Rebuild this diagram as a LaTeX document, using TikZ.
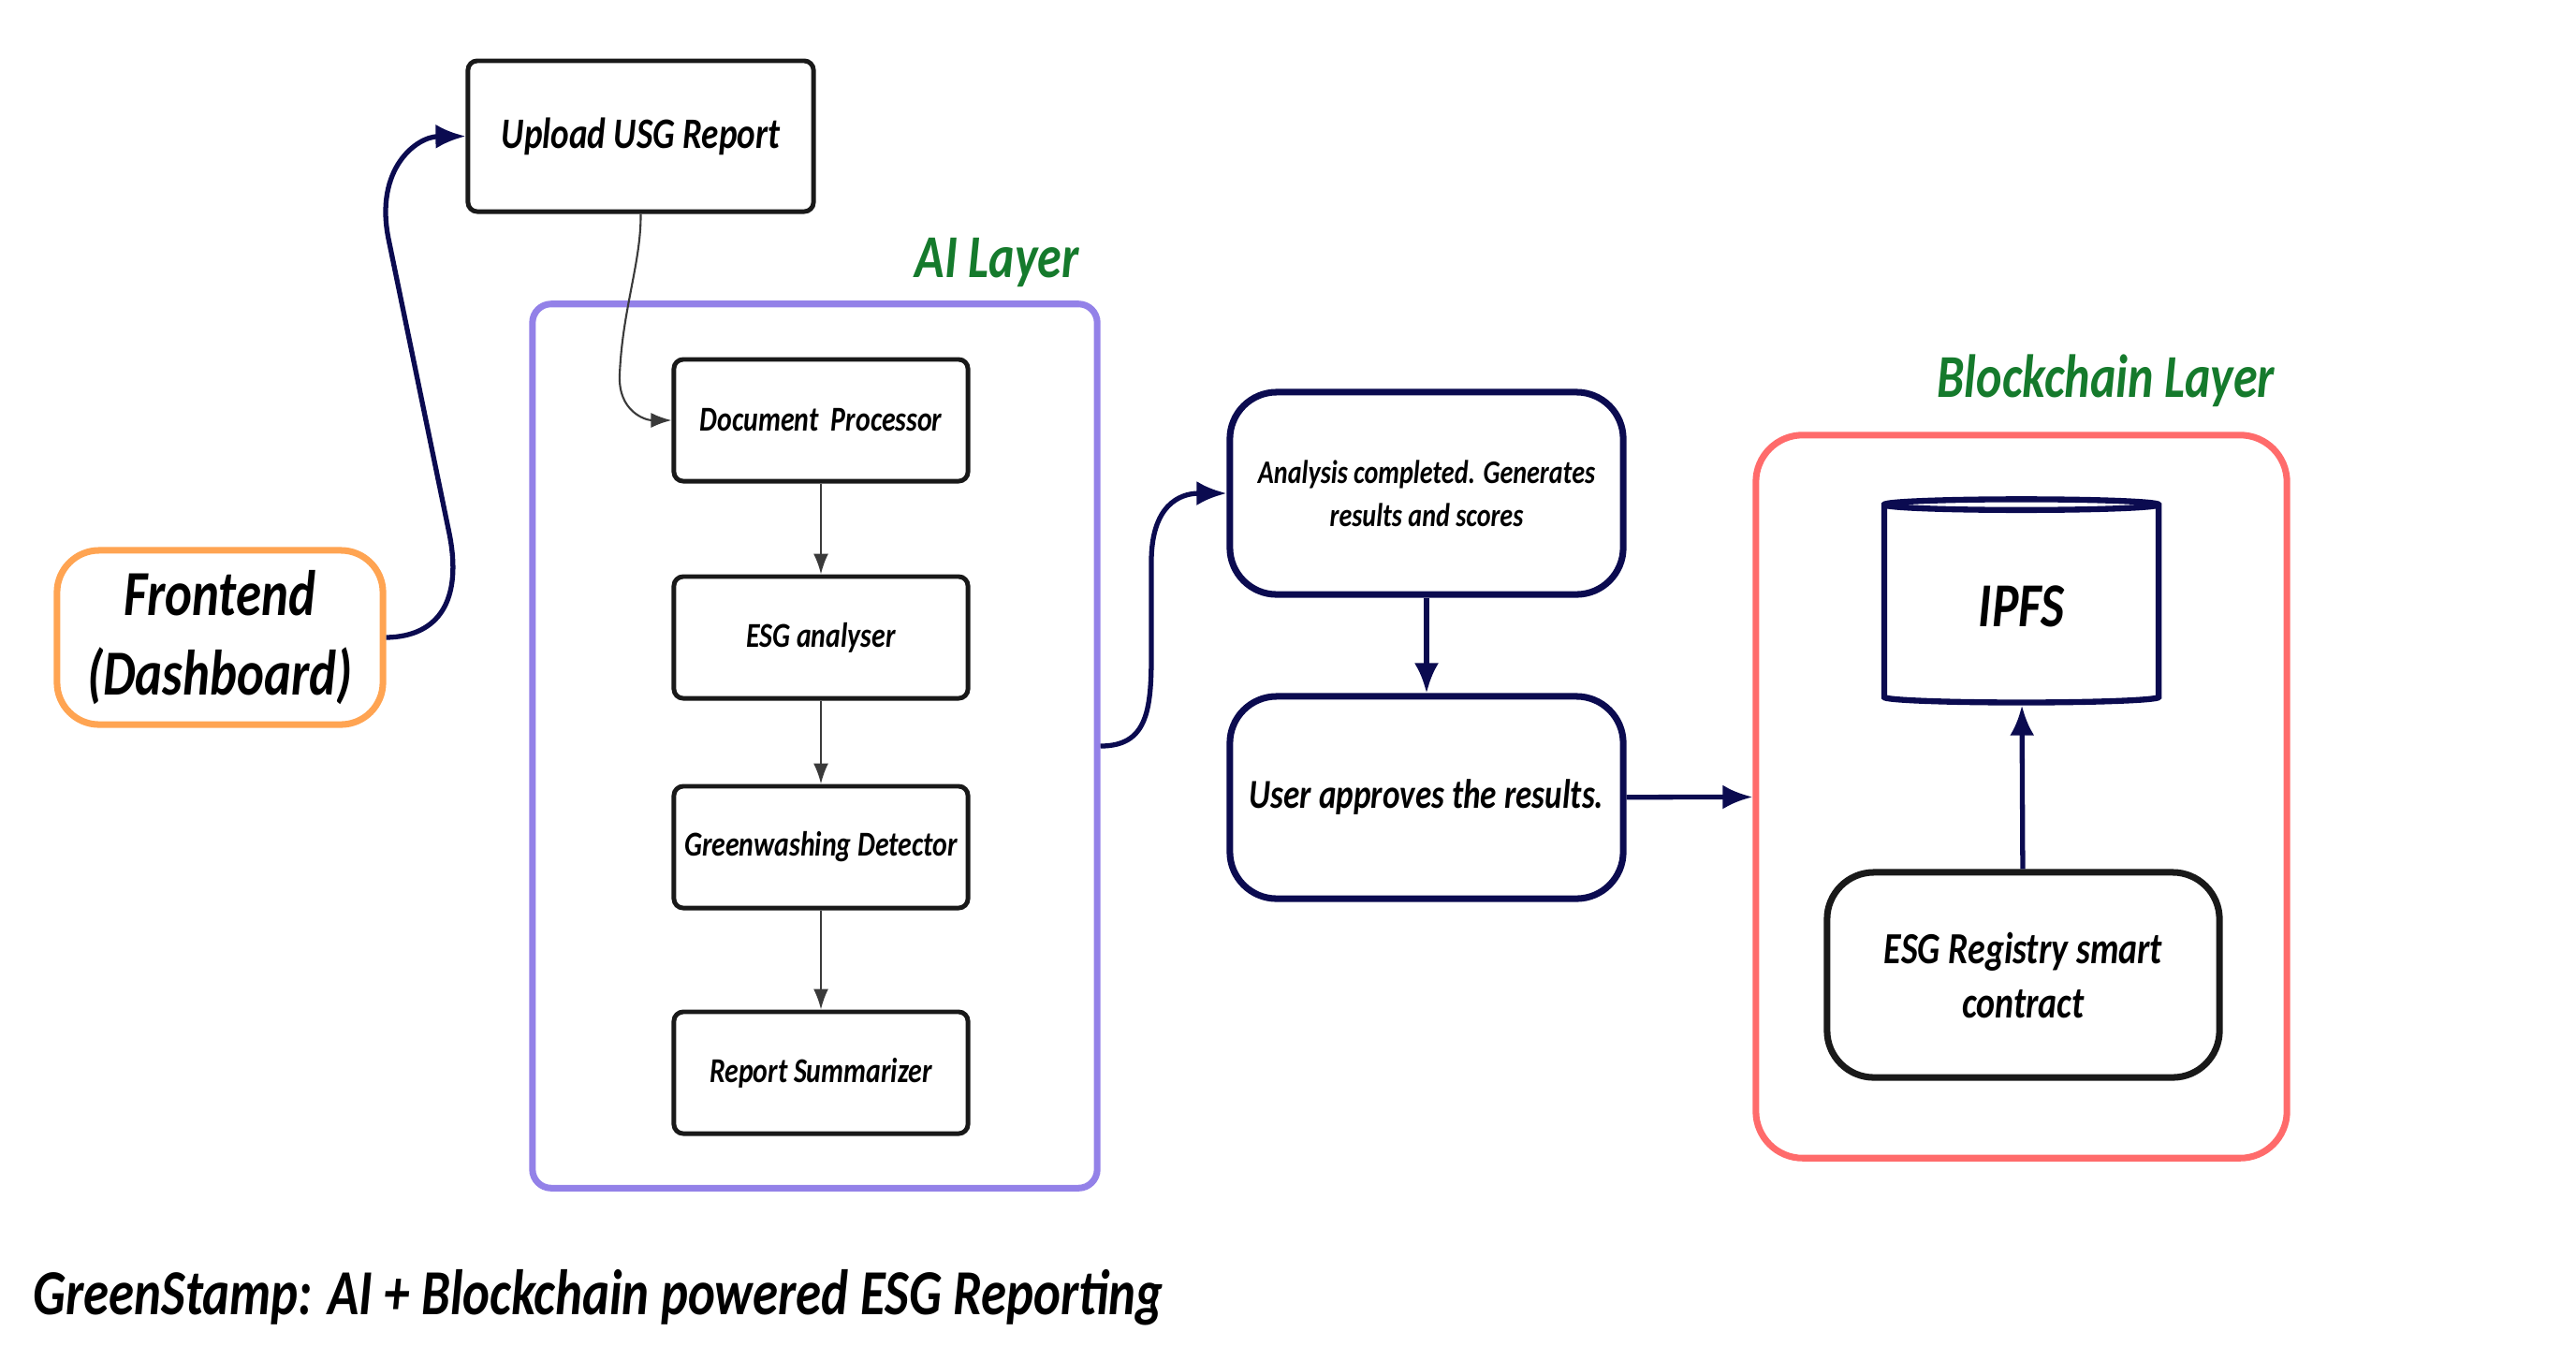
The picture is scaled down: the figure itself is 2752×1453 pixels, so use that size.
\documentclass[tikz,border=0pt]{standalone}
\usepackage{fontspec}
\setmainfont{Carlito}[FakeStretch=0.8]
\usepackage{xcolor}
\usetikzlibrary{positioning,arrows.meta,shapes.geometric}

\definecolor{navy}{HTML}{0B0B50}
\definecolor{dashorange}{HTML}{FFA452}
\definecolor{layerpurple}{HTML}{9381E8}
\definecolor{layerred}{HTML}{FF6B6B}
\definecolor{layergreen}{HTML}{157A2C}
\definecolor{linkgray}{HTML}{3A3A3A}

\begin{document}
\begin{tikzpicture}[x=0.01cm, y=-0.01cm,
  stepbox/.style={draw=black!90, line width=1.4pt, rounded corners=0.1cm, inner sep=0pt, minimum width=3.14cm, minimum height=1.30cm, align=center, font=\fontsize{10.6}{13}\selectfont\bfseries\itshape},
  bigbox/.style={draw=navy, line width=2pt, rounded corners=0.5cm, inner sep=0pt, minimum width=4.20cm, minimum height=2.16cm, align=center},
  layer/.style={rounded corners=0.2cm, line width=2pt, inner sep=0pt},
  layertitle/.style={text=layergreen, font=\fontsize{18.5}{20}\selectfont\bfseries\itshape},
  thinlink/.style={draw=linkgray, line width=0.6pt, -{Latex[length=2.2mm, width=1.6mm]}},
  navylink/.style={draw=navy, line width=1.5pt, -{Latex[length=3.2mm, width=2.6mm]}}]

\useasboundingbox (0,0) rectangle (2752,1453);

% frames
\node[layer, draw=layerpurple, minimum width=6.03cm, minimum height=9.44cm] at (870.5,797) (ai) {};
\node[layer, draw=layerred, rounded corners=0.5cm, minimum width=5.67cm, minimum height=7.72cm] at (2159.5,851) (bc) {};
\node[layertitle] at (1065,281) (aititle) {AI Layer};
\node[layertitle] at (2250,407) (bctitle) {Blockchain Layer};

% left side
\node[draw=dashorange, line width=2pt, rounded corners=0.45cm, minimum width=3.48cm, minimum height=1.86cm, align=center, font=\fontsize{19.5}{24}\selectfont\bfseries\itshape] at (235,681) (fe) {Frontend\\(Dashboard)};
\node[stepbox, minimum width=3.69cm, minimum height=1.61cm, font=\fontsize{13.2}{15}\selectfont\bfseries\itshape] at (684.5,145.5) (up) {Upload USG Report};

% AI layer
\node[stepbox] at (877,449) (dp) {Document\ \ Processor};
\node[stepbox] at (877,681) (ea) {ESG analyser};
\node[stepbox] at (877,905) (gd) {Greenwashing Detector};
\node[stepbox] at (877,1146) (rs) {Report Summarizer};

% middle
\node[bigbox, font=\fontsize{10}{13}\selectfont\bfseries\itshape] at (1524,527) (an) {Analysis completed. Generates\\results and scores};
\node[bigbox, font=\fontsize{12.5}{14}\selectfont\bfseries\itshape] at (1524,852) (ua) {User approves the results.};

% blockchain layer
\node[cylinder, shape border rotate=90, aspect=0.1, draw=navy, line width=1.8pt, minimum width=2.93cm, minimum height=2.17cm, font=\fontsize{19}{22}\selectfont\bfseries\itshape] at (2159.5,647.5) (ipfs) {IPFS};
\node[bigbox, draw=black!90, minimum width=4.19cm, minimum height=2.19cm, font=\fontsize{13.5}{16.5}\selectfont\bfseries\itshape] at (2161.5,1041.5) (reg) {ESG Registry smart\\contract};

\node[anchor=west, inner sep=0pt, font=\fontsize{19.5}{20}\selectfont\bfseries\itshape] at (35,1386) (title) {GreenStamp: AI + Blockchain powered ESG Reporting};

% connectors
\draw[navylink] (fe.east) .. controls (470,680) and (494,640) .. (480,570) -- (415,255) .. controls (400,180) and (445,146) .. (up.west);
\draw[thinlink] (up.south) .. controls (685,280) and (665,330) .. (662,400) .. controls (660,440) and (690,449) .. (dp.west);
\draw[thinlink] (dp) -- (ea);
\draw[thinlink] (ea) -- (gd);
\draw[thinlink] (gd) -- (rs);
\draw[navylink] (ai.east) .. controls (1225,797) and (1230,760) .. (1230,700) -- (1230,600) .. controls (1230,540) and (1260,527) .. (an.west);
\draw[navylink] (an) -- (ua);
\draw[navylink] (ua) -- (bc);
\draw[navylink] (reg) -- (ipfs);

\end{tikzpicture}
\end{document}
